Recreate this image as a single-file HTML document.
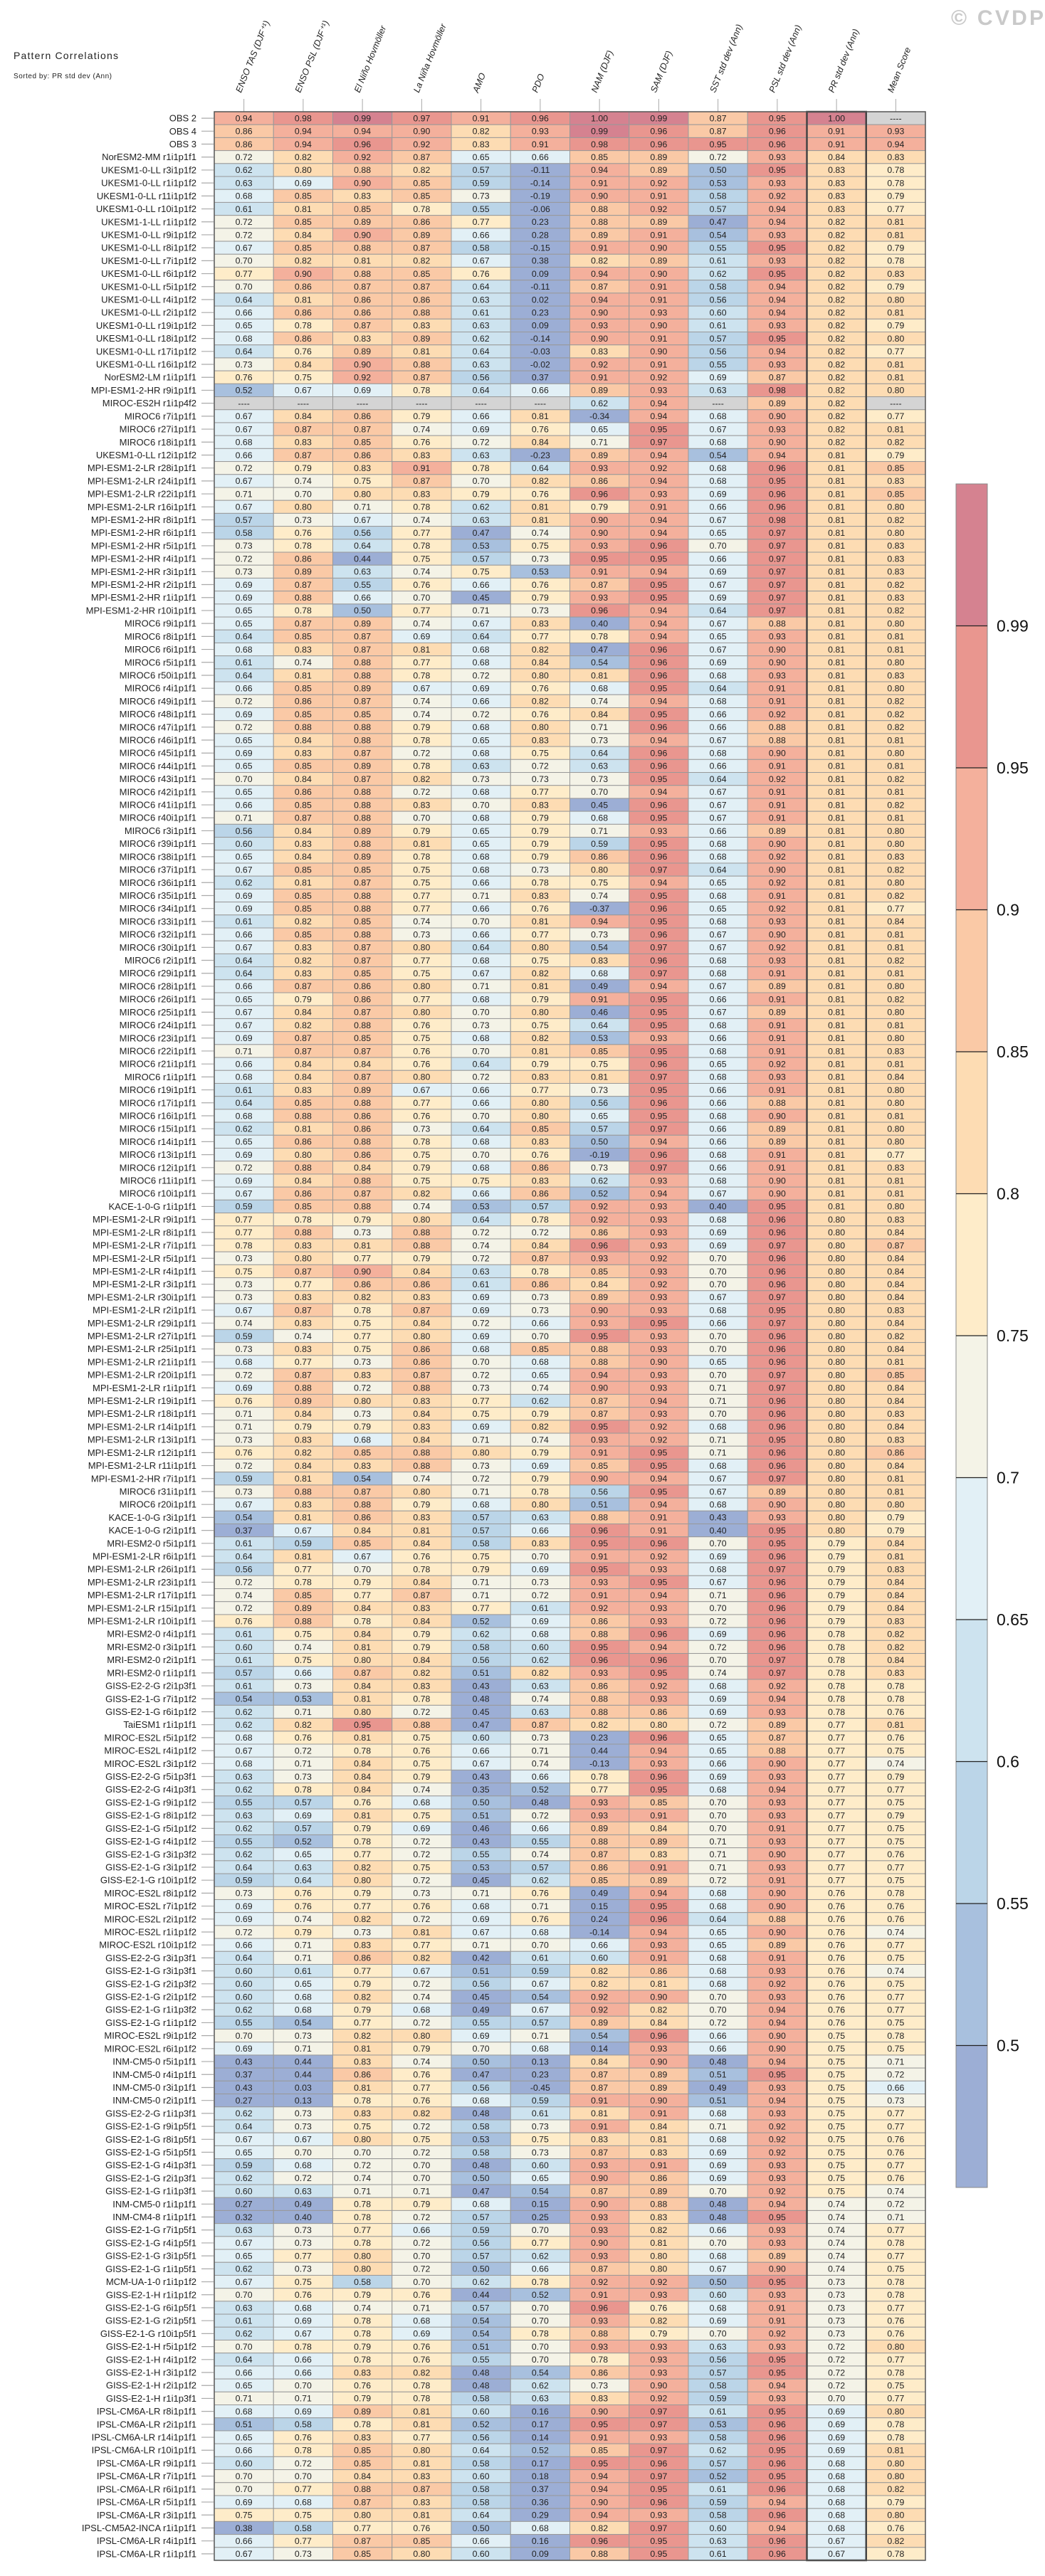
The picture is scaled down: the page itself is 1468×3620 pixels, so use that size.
<!DOCTYPE html>
<html><head><meta charset="utf-8"><title>Pattern Correlations</title>
<style>
html,body{margin:0;padding:0;background:#fff;}
svg{display:block;font-family:"Liberation Sans",Arial,sans-serif;}
</style></head>
<body>
<svg id="chart" width="1468" height="3620" viewBox="0 0 1468 3620" xmlns="http://www.w3.org/2000/svg">
<text x="19" y="83" font-size="14" textLength="147" fill="#222">Pattern Correlations</text>
<text x="19" y="110" font-size="10" textLength="138" fill="#222">Sorted by: PR std dev (Ann)</text>
<text x="1336" y="35" font-size="30" font-weight="bold" fill="#c9c9c9" textLength="130">© CVDP</text>
<g id="headers"></g>
<g id="cells"></g>
<g id="labels"></g>
<g id="colorbar"></g>
</svg>
<script>
const columns = ["ENSO TAS (DJF\u207A\u00B9)","ENSO PSL (DJF\u207A\u00B9)","El Ni\u00F1o Hovm\u00F6ller","La Ni\u00F1a Hovm\u00F6ller","AMO","PDO","NAM (DJF)","SAM (DJF)","SST std dev (Ann)","PSL std dev (Ann)","PR std dev (Ann)","Mean Score"];
const models = ["OBS 2","OBS 4","OBS 3","NorESM2-MM r1i1p1f1","UKESM1-0-LL r3i1p1f2","UKESM1-0-LL r1i1p1f2","UKESM1-0-LL r11i1p1f2","UKESM1-0-LL r10i1p1f2","UKESM1-1-LL r1i1p1f2","UKESM1-0-LL r9i1p1f2","UKESM1-0-LL r8i1p1f2","UKESM1-0-LL r7i1p1f2","UKESM1-0-LL r6i1p1f2","UKESM1-0-LL r5i1p1f2",
"UKESM1-0-LL r4i1p1f2","UKESM1-0-LL r2i1p1f2","UKESM1-0-LL r19i1p1f2","UKESM1-0-LL r18i1p1f2","UKESM1-0-LL r17i1p1f2","UKESM1-0-LL r16i1p1f2","NorESM2-LM r1i1p1f1","MPI-ESM1-2-HR r9i1p1f1","MIROC-ES2H r1i1p4f2","MIROC6 r7i1p1f1","MIROC6 r27i1p1f1","MIROC6 r18i1p1f1","UKESM1-0-LL r12i1p1f2","MPI-ESM1-2-LR r28i1p1f1","MPI-ESM1-2-LR r24i1p1f1","MPI-ESM1-2-LR r22i1p1f1","MPI-ESM1-2-LR r16i1p1f1","MPI-ESM1-2-HR r8i1p1f1","MPI-ESM1-2-HR r6i1p1f1","MPI-ESM1-2-HR r5i1p1f1","MPI-ESM1-2-HR r4i1p1f1","MPI-ESM1-2-HR r3i1p1f1","MPI-ESM1-2-HR r2i1p1f1",
"MPI-ESM1-2-HR r1i1p1f1","MPI-ESM1-2-HR r10i1p1f1","MIROC6 r9i1p1f1","MIROC6 r8i1p1f1","MIROC6 r6i1p1f1","MIROC6 r5i1p1f1","MIROC6 r50i1p1f1","MIROC6 r4i1p1f1","MIROC6 r49i1p1f1","MIROC6 r48i1p1f1","MIROC6 r47i1p1f1","MIROC6 r46i1p1f1","MIROC6 r45i1p1f1","MIROC6 r44i1p1f1","MIROC6 r43i1p1f1","MIROC6 r42i1p1f1","MIROC6 r41i1p1f1","MIROC6 r40i1p1f1","MIROC6 r3i1p1f1","MIROC6 r39i1p1f1","MIROC6 r38i1p1f1","MIROC6 r37i1p1f1","MIROC6 r36i1p1f1","MIROC6 r35i1p1f1",
"MIROC6 r34i1p1f1","MIROC6 r33i1p1f1","MIROC6 r32i1p1f1","MIROC6 r30i1p1f1","MIROC6 r2i1p1f1","MIROC6 r29i1p1f1","MIROC6 r28i1p1f1","MIROC6 r26i1p1f1","MIROC6 r25i1p1f1","MIROC6 r24i1p1f1","MIROC6 r23i1p1f1","MIROC6 r22i1p1f1","MIROC6 r21i1p1f1","MIROC6 r1i1p1f1","MIROC6 r19i1p1f1","MIROC6 r17i1p1f1","MIROC6 r16i1p1f1","MIROC6 r15i1p1f1","MIROC6 r14i1p1f1","MIROC6 r13i1p1f1","MIROC6 r12i1p1f1","MIROC6 r11i1p1f1","MIROC6 r10i1p1f1",
"KACE-1-0-G r1i1p1f1","MPI-ESM1-2-LR r9i1p1f1","MPI-ESM1-2-LR r8i1p1f1","MPI-ESM1-2-LR r7i1p1f1","MPI-ESM1-2-LR r5i1p1f1","MPI-ESM1-2-LR r4i1p1f1","MPI-ESM1-2-LR r3i1p1f1","MPI-ESM1-2-LR r30i1p1f1","MPI-ESM1-2-LR r2i1p1f1","MPI-ESM1-2-LR r29i1p1f1","MPI-ESM1-2-LR r27i1p1f1","MPI-ESM1-2-LR r25i1p1f1","MPI-ESM1-2-LR r21i1p1f1","MPI-ESM1-2-LR r20i1p1f1","MPI-ESM1-2-LR r1i1p1f1","MPI-ESM1-2-LR r19i1p1f1","MPI-ESM1-2-LR r18i1p1f1","MPI-ESM1-2-LR r14i1p1f1","MPI-ESM1-2-LR r13i1p1f1","MPI-ESM1-2-LR r12i1p1f1","MPI-ESM1-2-LR r11i1p1f1","MPI-ESM1-2-HR r7i1p1f1","MIROC6 r31i1p1f1","MIROC6 r20i1p1f1",
"KACE-1-0-G r3i1p1f1","KACE-1-0-G r2i1p1f1","MRI-ESM2-0 r5i1p1f1","MPI-ESM1-2-LR r6i1p1f1","MPI-ESM1-2-LR r26i1p1f1","MPI-ESM1-2-LR r23i1p1f1","MPI-ESM1-2-LR r17i1p1f1","MPI-ESM1-2-LR r15i1p1f1","MPI-ESM1-2-LR r10i1p1f1","MRI-ESM2-0 r4i1p1f1","MRI-ESM2-0 r3i1p1f1","MRI-ESM2-0 r2i1p1f1","MRI-ESM2-0 r1i1p1f1","GISS-E2-2-G r2i1p3f1","GISS-E2-1-G r7i1p1f2","GISS-E2-1-G r6i1p1f2","TaiESM1 r1i1p1f1","MIROC-ES2L r5i1p1f2","MIROC-ES2L r4i1p1f2","MIROC-ES2L r3i1p1f2","GISS-E2-2-G r5i1p3f1","GISS-E2-2-G r4i1p3f1","GISS-E2-1-G r9i1p1f2","GISS-E2-1-G r8i1p1f2",
"GISS-E2-1-G r5i1p1f2","GISS-E2-1-G r4i1p1f2","GISS-E2-1-G r3i1p3f2","GISS-E2-1-G r3i1p1f2","GISS-E2-1-G r10i1p1f2","MIROC-ES2L r8i1p1f2","MIROC-ES2L r7i1p1f2","MIROC-ES2L r2i1p1f2","MIROC-ES2L r1i1p1f2","MIROC-ES2L r10i1p1f2","GISS-E2-2-G r3i1p3f1","GISS-E2-1-G r3i1p3f1","GISS-E2-1-G r2i1p3f2","GISS-E2-1-G r2i1p1f2","GISS-E2-1-G r1i1p3f2","GISS-E2-1-G r1i1p1f2","MIROC-ES2L r9i1p1f2","MIROC-ES2L r6i1p1f2","INM-CM5-0 r5i1p1f1","INM-CM5-0 r4i1p1f1","INM-CM5-0 r3i1p1f1","INM-CM5-0 r2i1p1f1","GISS-E2-2-G r1i1p3f1",
"GISS-E2-1-G r9i1p5f1","GISS-E2-1-G r8i1p5f1","GISS-E2-1-G r5i1p5f1","GISS-E2-1-G r4i1p3f1","GISS-E2-1-G r2i1p3f1","GISS-E2-1-G r1i1p3f1","INM-CM5-0 r1i1p1f1","INM-CM4-8 r1i1p1f1","GISS-E2-1-G r7i1p5f1","GISS-E2-1-G r4i1p5f1","GISS-E2-1-G r3i1p5f1","GISS-E2-1-G r1i1p5f1","MCM-UA-1-0 r1i1p1f2","GISS-E2-1-H r1i1p1f2","GISS-E2-1-G r6i1p5f1","GISS-E2-1-G r2i1p5f1","GISS-E2-1-G r10i1p5f1","GISS-E2-1-H r5i1p1f2","GISS-E2-1-H r4i1p1f2","GISS-E2-1-H r3i1p1f2","GISS-E2-1-H r2i1p1f2","GISS-E2-1-H r1i1p3f1","IPSL-CM6A-LR r8i1p1f1","IPSL-CM6A-LR r2i1p1f1",
"IPSL-CM6A-LR r14i1p1f1","IPSL-CM6A-LR r10i1p1f1","IPSL-CM6A-LR r9i1p1f1","IPSL-CM6A-LR r7i1p1f1","IPSL-CM6A-LR r6i1p1f1","IPSL-CM6A-LR r5i1p1f1","IPSL-CM6A-LR r3i1p1f1","IPSL-CM5A2-INCA r1i1p1f1","IPSL-CM6A-LR r4i1p1f1","IPSL-CM6A-LR r1i1p1f1"];
const N = null;
const values = [
[.94,.98,.99,.97,.91,.96,1.00,.99,.87,.95,1.00,N],
[.86,.94,.94,.90,.82,.93,.99,.96,.87,.96,.91,.93],
[.86,.94,.96,.92,.83,.91,.98,.96,.95,.96,.91,.94],
[.72,.82,.92,.87,.65,.66,.85,.89,.72,.93,.84,.83],
[.62,.80,.88,.82,.57,-.11,.94,.89,.50,.95,.83,.78],
[.63,.69,.90,.85,.59,-.14,.91,.92,.53,.93,.83,.78],
[.68,.85,.83,.85,.73,-.19,.90,.91,.58,.92,.83,.79],
[.61,.81,.85,.78,.55,-.06,.88,.92,.57,.94,.83,.77],
[.72,.85,.89,.86,.77,.23,.88,.89,.47,.94,.82,.81],
[.72,.84,.90,.89,.66,.28,.89,.91,.54,.93,.82,.81],
[.67,.85,.88,.87,.58,-.15,.91,.90,.55,.95,.82,.79],
[.70,.82,.81,.82,.67,.38,.82,.89,.61,.93,.82,.78],
[.77,.90,.88,.85,.76,.09,.94,.90,.62,.95,.82,.83],
[.70,.86,.87,.87,.64,-.11,.87,.91,.58,.94,.82,.79],
[.64,.81,.86,.86,.63,.02,.94,.91,.56,.94,.82,.80],
[.66,.86,.86,.88,.61,.23,.90,.93,.60,.94,.82,.81],
[.65,.78,.87,.83,.63,.09,.93,.90,.61,.93,.82,.79],
[.68,.86,.83,.89,.62,-.14,.90,.91,.57,.95,.82,.80],
[.64,.76,.89,.81,.64,-.03,.83,.90,.56,.94,.82,.77],
[.73,.84,.90,.88,.63,-.02,.92,.91,.55,.93,.82,.81],
[.76,.75,.92,.87,.56,.37,.91,.92,.69,.87,.82,.81],
[.52,.67,.69,.78,.64,.66,.89,.93,.63,.98,.82,.80],
[N,N,N,N,N,N,.62,.94,N,.89,.82,N],
[.67,.84,.86,.79,.66,.81,-.34,.94,.68,.90,.82,.77],
[.67,.87,.87,.74,.69,.76,.65,.95,.67,.93,.82,.81],
[.68,.83,.85,.76,.72,.84,.71,.97,.68,.90,.82,.82],
[.66,.87,.86,.83,.63,-.23,.89,.94,.54,.94,.81,.79],
[.72,.79,.83,.91,.78,.64,.93,.92,.68,.96,.81,.85],
[.67,.74,.75,.87,.70,.82,.86,.94,.68,.95,.81,.83],
[.71,.70,.80,.83,.79,.76,.96,.93,.69,.96,.81,.85],
[.67,.80,.71,.78,.62,.81,.79,.91,.66,.96,.81,.80],
[.57,.73,.67,.74,.63,.81,.90,.94,.67,.98,.81,.82],
[.58,.76,.56,.77,.47,.74,.90,.94,.65,.97,.81,.80],
[.73,.78,.64,.78,.53,.75,.93,.96,.70,.97,.81,.83],
[.72,.86,.44,.75,.57,.73,.95,.95,.66,.97,.81,.83],
[.73,.89,.63,.74,.75,.53,.91,.94,.69,.97,.81,.83],
[.69,.87,.55,.76,.66,.76,.87,.95,.67,.97,.81,.82],
[.69,.88,.66,.70,.45,.79,.93,.95,.69,.97,.81,.83],
[.65,.78,.50,.77,.71,.73,.96,.94,.64,.97,.81,.82],
[.65,.87,.89,.74,.67,.83,.40,.94,.67,.88,.81,.80],
[.64,.85,.87,.69,.64,.77,.78,.94,.65,.93,.81,.81],
[.68,.83,.87,.81,.68,.82,.47,.96,.67,.90,.81,.81],
[.61,.74,.88,.77,.68,.84,.54,.96,.69,.90,.81,.80],
[.64,.81,.88,.78,.72,.80,.81,.96,.68,.93,.81,.83],
[.66,.85,.89,.67,.69,.76,.68,.95,.64,.91,.81,.80],
[.72,.86,.87,.74,.66,.82,.74,.94,.68,.91,.81,.82],
[.69,.85,.85,.74,.72,.76,.84,.95,.66,.92,.81,.82],
[.72,.88,.88,.79,.68,.80,.71,.96,.66,.88,.81,.82],
[.65,.84,.88,.78,.65,.83,.73,.94,.67,.88,.81,.81],
[.69,.83,.87,.72,.68,.75,.64,.96,.68,.90,.81,.80],
[.65,.85,.89,.78,.63,.72,.63,.96,.66,.91,.81,.81],
[.70,.84,.87,.82,.73,.73,.73,.95,.64,.92,.81,.82],
[.65,.86,.88,.72,.68,.77,.70,.94,.67,.91,.81,.81],
[.66,.85,.88,.83,.70,.83,.45,.96,.67,.91,.81,.82],
[.71,.87,.88,.70,.68,.79,.68,.95,.67,.91,.81,.81],
[.56,.84,.89,.79,.65,.79,.71,.93,.66,.89,.81,.80],
[.60,.83,.88,.81,.65,.79,.59,.95,.68,.90,.81,.80],
[.65,.84,.89,.78,.68,.79,.86,.96,.68,.92,.81,.83],
[.67,.85,.85,.75,.68,.73,.80,.97,.64,.90,.81,.82],
[.62,.81,.87,.75,.66,.78,.75,.94,.65,.92,.81,.80],
[.69,.85,.88,.77,.71,.83,.74,.95,.68,.91,.81,.82],
[.69,.85,.88,.77,.66,.76,-.37,.96,.65,.92,.81,.77],
[.61,.82,.85,.74,.70,.81,.94,.95,.68,.93,.81,.84],
[.66,.85,.88,.73,.66,.77,.73,.96,.67,.90,.81,.81],
[.67,.83,.87,.80,.64,.80,.54,.97,.67,.92,.81,.81],
[.64,.82,.87,.77,.68,.75,.83,.96,.68,.93,.81,.82],
[.64,.83,.85,.75,.67,.82,.68,.97,.68,.91,.81,.81],
[.66,.87,.86,.80,.71,.81,.49,.94,.67,.89,.81,.80],
[.65,.79,.86,.77,.68,.79,.91,.95,.66,.91,.81,.82],
[.67,.84,.87,.80,.70,.80,.46,.95,.67,.89,.81,.80],
[.67,.82,.88,.76,.73,.75,.64,.95,.68,.91,.81,.81],
[.69,.87,.85,.75,.68,.82,.53,.93,.66,.91,.81,.80],
[.71,.87,.87,.76,.70,.81,.85,.95,.68,.91,.81,.83],
[.66,.84,.84,.76,.64,.79,.75,.96,.65,.92,.81,.81],
[.68,.84,.87,.80,.72,.83,.81,.97,.68,.93,.81,.84],
[.61,.83,.89,.67,.66,.77,.73,.95,.66,.91,.81,.80],
[.64,.85,.88,.77,.66,.80,.56,.96,.66,.88,.81,.80],
[.68,.88,.86,.76,.70,.80,.65,.95,.68,.90,.81,.81],
[.62,.81,.86,.73,.64,.85,.57,.97,.66,.89,.81,.80],
[.65,.86,.88,.78,.68,.83,.50,.94,.66,.89,.81,.80],
[.69,.80,.86,.75,.70,.76,-.19,.96,.68,.91,.81,.77],
[.72,.88,.84,.79,.68,.86,.73,.97,.66,.91,.81,.83],
[.69,.84,.88,.75,.75,.83,.62,.93,.68,.90,.81,.81],
[.67,.86,.87,.82,.66,.86,.52,.94,.67,.90,.81,.81],
[.59,.85,.88,.74,.53,.57,.92,.93,.40,.95,.81,.80],
[.77,.78,.79,.80,.64,.78,.92,.93,.68,.96,.80,.83],
[.77,.88,.73,.88,.72,.72,.86,.93,.69,.96,.80,.84],
[.78,.83,.81,.88,.74,.84,.96,.93,.69,.97,.80,.87],
[.73,.80,.77,.79,.72,.87,.93,.92,.70,.96,.80,.84],
[.75,.87,.90,.84,.63,.78,.85,.93,.70,.96,.80,.84],
[.73,.77,.86,.86,.61,.86,.84,.92,.70,.96,.80,.84],
[.73,.83,.82,.83,.69,.73,.89,.93,.67,.97,.80,.84],
[.67,.87,.78,.87,.69,.73,.90,.93,.68,.95,.80,.83],
[.74,.83,.75,.84,.72,.66,.93,.95,.66,.97,.80,.84],
[.59,.74,.77,.80,.69,.70,.95,.93,.70,.96,.80,.82],
[.73,.83,.75,.86,.68,.85,.88,.93,.70,.96,.80,.84],
[.68,.77,.73,.86,.70,.68,.88,.90,.65,.96,.80,.81],
[.72,.87,.83,.87,.72,.65,.94,.93,.70,.97,.80,.85],
[.69,.88,.72,.88,.73,.74,.90,.93,.71,.97,.80,.84],
[.76,.89,.80,.83,.77,.62,.87,.94,.71,.96,.80,.84],
[.71,.84,.73,.84,.75,.79,.87,.93,.70,.96,.80,.83],
[.71,.79,.79,.83,.69,.82,.95,.92,.68,.96,.80,.84],
[.73,.83,.68,.84,.71,.74,.93,.92,.71,.95,.80,.83],
[.76,.82,.85,.88,.80,.79,.91,.95,.71,.96,.80,.86],
[.72,.84,.83,.88,.73,.69,.85,.95,.68,.96,.80,.84],
[.59,.81,.54,.74,.72,.79,.90,.94,.67,.97,.80,.81],
[.73,.88,.87,.80,.71,.78,.56,.95,.67,.89,.80,.81],
[.67,.83,.88,.79,.68,.80,.51,.94,.68,.90,.80,.80],
[.54,.81,.86,.83,.57,.63,.88,.91,.43,.93,.80,.79],
[.37,.67,.84,.81,.57,.66,.96,.91,.40,.95,.80,.79],
[.61,.59,.85,.84,.58,.83,.95,.96,.70,.95,.79,.84],
[.64,.81,.67,.76,.75,.70,.91,.92,.69,.96,.79,.81],
[.56,.77,.70,.78,.79,.69,.95,.93,.68,.97,.79,.83],
[.72,.78,.79,.84,.71,.73,.93,.95,.67,.96,.79,.84],
[.74,.85,.77,.87,.71,.72,.91,.94,.71,.96,.79,.84],
[.72,.89,.84,.83,.77,.61,.92,.93,.70,.96,.79,.84],
[.76,.88,.78,.84,.52,.69,.86,.93,.72,.96,.79,.83],
[.61,.75,.84,.79,.62,.68,.88,.96,.69,.96,.78,.82],
[.60,.74,.81,.79,.58,.60,.95,.94,.72,.96,.78,.82],
[.61,.75,.80,.84,.56,.62,.96,.96,.70,.97,.78,.84],
[.57,.66,.87,.82,.51,.82,.93,.95,.74,.97,.78,.83],
[.61,.73,.84,.83,.43,.63,.86,.92,.68,.92,.78,.78],
[.54,.53,.81,.78,.48,.74,.88,.93,.69,.94,.78,.78],
[.62,.71,.80,.72,.45,.63,.88,.86,.69,.93,.78,.76],
[.62,.82,.95,.88,.47,.87,.82,.80,.72,.89,.77,.81],
[.68,.76,.81,.75,.60,.73,.23,.96,.65,.87,.77,.76],
[.67,.72,.78,.76,.66,.71,.44,.94,.65,.88,.77,.75],
[.68,.71,.84,.75,.67,.74,-.13,.93,.66,.90,.77,.74],
[.63,.73,.84,.79,.43,.66,.78,.96,.69,.93,.77,.79],
[.62,.78,.84,.74,.35,.52,.77,.95,.68,.94,.77,.77],
[.55,.57,.76,.68,.50,.48,.93,.85,.70,.93,.77,.75],
[.63,.69,.81,.75,.51,.72,.93,.91,.70,.93,.77,.79],
[.62,.57,.79,.69,.46,.66,.89,.84,.70,.91,.77,.75],
[.55,.52,.78,.72,.43,.55,.88,.89,.71,.93,.77,.75],
[.62,.65,.77,.72,.55,.74,.87,.83,.71,.90,.77,.76],
[.64,.63,.82,.75,.53,.57,.86,.91,.71,.93,.77,.77],
[.59,.64,.80,.72,.45,.62,.85,.89,.72,.91,.77,.75],
[.73,.76,.79,.73,.71,.76,.49,.94,.68,.90,.76,.78],
[.69,.76,.77,.76,.68,.71,.15,.95,.68,.90,.76,.76],
[.69,.74,.82,.72,.69,.76,.24,.96,.64,.88,.76,.76],
[.72,.79,.73,.81,.67,.68,-.14,.94,.65,.90,.76,.74],
[.66,.71,.83,.77,.71,.70,.66,.93,.65,.89,.76,.77],
[.64,.71,.86,.82,.42,.61,.60,.91,.68,.91,.76,.75],
[.60,.61,.77,.67,.51,.59,.82,.86,.68,.93,.76,.74],
[.60,.65,.79,.72,.56,.67,.82,.81,.68,.92,.76,.75],
[.60,.68,.82,.74,.45,.54,.92,.90,.70,.93,.76,.77],
[.62,.68,.79,.68,.49,.67,.92,.82,.70,.94,.76,.77],
[.55,.54,.77,.72,.55,.57,.89,.84,.72,.94,.76,.75],
[.70,.73,.82,.80,.69,.71,.54,.96,.66,.90,.75,.78],
[.69,.71,.81,.79,.70,.68,.14,.93,.66,.90,.75,.75],
[.43,.44,.83,.74,.50,.13,.84,.90,.48,.94,.75,.71],
[.37,.44,.86,.76,.47,.23,.87,.89,.51,.95,.75,.72],
[.43,.03,.81,.77,.56,-.45,.87,.89,.49,.93,.75,.66],
[.27,.13,.78,.76,.68,.59,.91,.90,.51,.94,.75,.73],
[.62,.73,.83,.82,.48,.61,.81,.91,.68,.93,.75,.77],
[.64,.73,.75,.72,.58,.73,.91,.84,.71,.92,.75,.77],
[.67,.67,.80,.75,.53,.75,.83,.81,.68,.92,.75,.76],
[.65,.70,.70,.72,.58,.73,.87,.83,.69,.92,.75,.76],
[.59,.68,.72,.70,.48,.60,.93,.91,.69,.93,.75,.77],
[.62,.72,.74,.70,.50,.65,.90,.86,.69,.93,.75,.76],
[.60,.63,.71,.71,.47,.54,.87,.89,.70,.92,.75,.74],
[.27,.49,.78,.79,.68,.15,.90,.88,.48,.94,.74,.72],
[.32,.40,.78,.72,.57,.25,.93,.83,.48,.95,.74,.71],
[.63,.73,.77,.66,.59,.70,.93,.82,.66,.93,.74,.77],
[.67,.73,.78,.72,.56,.77,.90,.81,.70,.93,.74,.78],
[.65,.77,.80,.70,.57,.62,.93,.80,.68,.89,.74,.77],
[.62,.73,.80,.72,.50,.66,.87,.80,.67,.90,.74,.75],
[.67,.75,.58,.70,.62,.78,.92,.92,.50,.95,.73,.78],
[.70,.76,.79,.76,.44,.52,.91,.93,.60,.93,.73,.78],
[.63,.68,.74,.71,.57,.70,.96,.76,.68,.91,.73,.77],
[.61,.69,.78,.68,.54,.70,.93,.82,.69,.91,.73,.76],
[.62,.67,.78,.69,.54,.78,.88,.79,.70,.92,.73,.76],
[.70,.78,.79,.76,.51,.70,.93,.93,.63,.93,.72,.80],
[.64,.66,.78,.76,.55,.70,.78,.93,.56,.95,.72,.77],
[.66,.66,.83,.82,.48,.54,.86,.93,.57,.95,.72,.78],
[.65,.70,.76,.78,.48,.62,.73,.90,.58,.94,.72,.75],
[.71,.71,.79,.78,.58,.63,.83,.92,.59,.93,.70,.77],
[.68,.69,.89,.81,.60,.16,.90,.97,.61,.95,.69,.80],
[.51,.58,.78,.81,.52,.17,.95,.97,.53,.96,.69,.78],
[.65,.76,.83,.77,.56,.14,.91,.93,.58,.96,.69,.78],
[.66,.78,.85,.80,.64,.52,.85,.97,.62,.95,.69,.81],
[.60,.72,.85,.81,.58,.17,.95,.96,.57,.96,.68,.80],
[.70,.70,.84,.83,.60,.18,.94,.97,.52,.95,.68,.80],
[.70,.77,.88,.87,.58,.37,.94,.95,.61,.96,.68,.82],
[.69,.68,.87,.83,.58,.36,.90,.96,.59,.94,.68,.79],
[.75,.75,.80,.81,.64,.29,.94,.93,.58,.96,.68,.80],
[.38,.58,.77,.76,.50,.68,.82,.97,.60,.94,.68,.76],
[.66,.77,.87,.85,.66,.16,.96,.95,.63,.96,.67,.82],
[.67,.73,.85,.80,.60,.09,.88,.95,.61,.96,.67,.78]
];
const colorBreaks = [0.99,0.95,0.90,0.85,0.80,0.75,0.70,0.65,0.60,0.55,0.50];
const binColors = ["#d58290","#e9968f","#f4b09c","#fac9a6","#fddcb3","#feecc9","#f4f3e7","#e2f0f6","#cde3ef","#bbd5e8","#a8c0de","#9caed5"];
const tickLabels = ["0.99","0.95","0.9","0.85","0.8","0.75","0.7","0.65","0.6","0.55","0.5"];

const NS = "http://www.w3.org/2000/svg";
const X0 = 301, X1 = 1300, Y0 = 157, Y1 = 3598;
const colW = (X1 - X0) / columns.length;
const rowH = (Y1 - Y0) / models.length;
function xCol(j){ return X0 + j*colW; }
function yRow(i){ return Y0 + i*rowH; }
function colorFor(v){
  if (v === null) return "#d4d4d4";
  for (let k=0;k<colorBreaks.length;k++){ if (v >= colorBreaks[k]-1e-9) return binColors[k]; }
  return binColors[binColors.length-1];
}
function mk(tag, attrs, parent){
  const e = document.createElementNS(NS, tag);
  for (const k in attrs) e.setAttribute(k, attrs[k]);
  parent.appendChild(e); return e;
}
const gH = document.getElementById("headers"), gC = document.getElementById("cells"), gL = document.getElementById("labels"), gB = document.getElementById("colorbar");

columns.forEach((c,j)=>{
  const cx = xCol(j) + colW/2;
  const t = mk("text",{x:cx-4,y:131,"font-size":"12.5","font-style":"italic",fill:"#222",transform:`rotate(-68 ${cx-4} 131)`},gH);
  
  
  t.textContent = c;
  const l = mk("line",{x1:cx,y1:139,x2:cx,y2:Y0,stroke:"#aaa","stroke-width":"1"},gH);
  
  
});

models.forEach((m,i)=>{
  const y = yRow(i), cy = y + rowH/2;
  const t = mk("text",{x:276,y:cy+4.5,"font-size":"13","text-anchor":"end",fill:"#222"},gL);
  
  
  t.textContent = m;
  const tk = mk("line",{x1:283,y1:cy,x2:300,y2:cy,stroke:"#aaa","stroke-width":"1.2"},gL);
  
  
  values[i].forEach((v,j)=>{
    const r = mk("rect",{x:xCol(j),y:y,width:colW,height:rowH,fill:colorFor(v),stroke:"#999","stroke-width":"1"},gC);
    
    
    const tx = mk("text",{x:xCol(j)+colW/2,y:cy+4.3,"font-size":"12.3","text-anchor":"middle",fill:"#222"},gC);
    
    
    tx.textContent = v === null ? "----" : v.toFixed(2);
  });
});
const pr = mk("rect",{x:xCol(10),y:Y0,width:colW,height:Y1-Y0,fill:"none",stroke:"#444","stroke-width":"2.5"},gC);


const ob = mk("rect",{x:X0,y:Y0,width:X1-X0,height:Y1-Y0,fill:"none",stroke:"#555","stroke-width":"1.5"},gC);



const CB0 = 680, CBstep = 199.5, CBx = 1343, CBw = 44;
function yTick(k){ return CB0 + (k+1)*CBstep; }
binColors.forEach((c,k)=>{
  const r = mk("rect",{x:CBx,y:CB0+k*CBstep,width:CBw,height:CBstep,fill:c},gB);
  
  
});
const cbo = mk("rect",{x:CBx,y:CB0,width:CBw,height:CBstep*binColors.length,fill:"none",stroke:"#888","stroke-width":"1"},gB);


tickLabels.forEach((lab,k)=>{
  const y = yTick(k);
  const l = mk("line",{x1:CBx,y1:y,x2:CBx+CBw,y2:y,stroke:"#222","stroke-width":"1.3"},gB);
  
  
  const t = mk("text",{x:1400,y:y+8,"font-size":"23",fill:"#111"},gB);
  
  
  t.textContent = lab;
});
</script>
</body></html>
